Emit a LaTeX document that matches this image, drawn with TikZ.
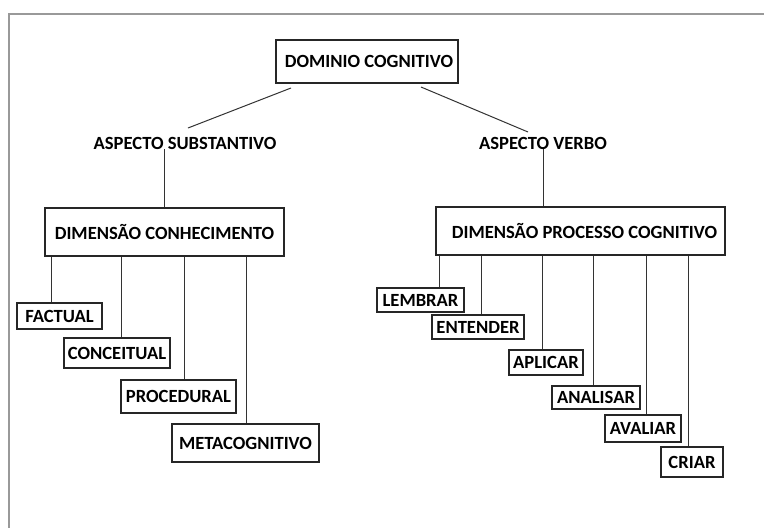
\documentclass[tikz,border=0pt]{standalone}
\usepackage{fontspec}
\setmainfont{Carlito}
\begin{document}
\begin{tikzpicture}[x=1pt,y=-1pt,
  every node/.style={font=\fontsize{18.6}{20}\selectfont\bfseries, text=black},
  box/.style={draw=black!85, line width=1.3pt, inner sep=0pt, align=center},
  lbl/.style={inner sep=0pt},
  conn/.style={draw=black!80, line width=1pt}]
\useasboundingbox (0,0) rectangle (764,528);
\fill[white] (0,0) rectangle (764,528);
% outer frame
\draw[gray!80, line width=1.4pt] (9,530) -- (9,14) -- (766,14);

\node[box, minimum width=182pt, minimum height=43pt] (dom) at (367,61.5) {\hspace*{4pt}DOMINIO COGNITIVO};
\node[lbl] (as) at (185,143) {ASPECTO SUBSTANTIVO};
\node[lbl] (av) at (543,143) {ASPECTO VERBO};
\node[box, minimum width=239pt, minimum height=48pt] (dk) at (164.5,232) {DIMENSÃO CONHECIMENTO};
\node[box, minimum width=289pt, minimum height=48pt] (dp) at (580.5,231) {\hspace*{8pt}DIMENSÃO PROCESSO COGNITIVO};

\node[box, minimum width=85pt, minimum height=26pt] (fa) at (59.5,316) {FACTUAL};
\node[box, minimum width=106pt, minimum height=30pt] (co) at (117,353) {CONCEITUAL};
\node[box, minimum width=115pt, minimum height=33pt] (pr) at (178.5,396.5) {PROCEDURAL};
\node[box, minimum width=147pt, minimum height=38pt] (me) at (245.5,443) {METACOGNITIVO};

\node[box, minimum width=87pt, minimum height=24pt] (le) at (420.5,300) {LEMBRAR};
\node[box, minimum width=92pt, minimum height=24pt] (en) at (478,327) {ENTENDER};
\node[box, minimum width=74pt, minimum height=25pt] (ap) at (546,362.5) {APLICAR};
\node[box, minimum width=88pt, minimum height=23pt] (an) at (596,397.5) {ANALISAR};
\node[box, minimum width=76pt, minimum height=27pt] (avl) at (643,428.5) {AVALIAR};
\node[box, minimum width=62pt, minimum height=30pt] (cr) at (692,462) {CRIAR};

% diagonal connectors
\coordinate (d1a) at (291,88);
\coordinate (d1b) at (188,128);
\coordinate (d2a) at (421,87);
\coordinate (d2b) at (528,132);
\draw[conn] (d1a) -- (d1b);
\draw[conn] (d2a) -- (d2b);

% vertical connectors to dimension boxes
\draw[conn] (dk.north) -- (dk.north |- as.south);
\draw[conn] (av.south) -- (av.south |- dp.north);

% left children
\draw[conn] ([xshift=-8.5pt]fa.north) -- ([xshift=-8.5pt]fa.north |- dk.south);
\draw[conn] ([xshift=4pt]co.north) -- ([xshift=4pt]co.north |- dk.south);
\draw[conn] ([xshift=5.5pt]pr.north) -- ([xshift=5.5pt]pr.north |- dk.south);
\draw[conn] ([xshift=0.5pt]me.north) -- ([xshift=0.5pt]me.north |- dk.south);

% right children
\draw[conn] ([xshift=18.5pt]le.north) -- ([xshift=18.5pt]le.north |- dp.south);
\draw[conn] ([xshift=3pt]en.north) -- ([xshift=3pt]en.north |- dp.south);
\draw[conn] ([xshift=-4pt]ap.north) -- ([xshift=-4pt]ap.north |- dp.south);
\draw[conn] ([xshift=-3pt]an.north) -- ([xshift=-3pt]an.north |- dp.south);
\draw[conn] ([xshift=3pt]avl.north) -- ([xshift=3pt]avl.north |- dp.south);
\draw[conn] ([xshift=-4pt]cr.north) -- ([xshift=-4pt]cr.north |- dp.south);
\end{tikzpicture}
\end{document}
